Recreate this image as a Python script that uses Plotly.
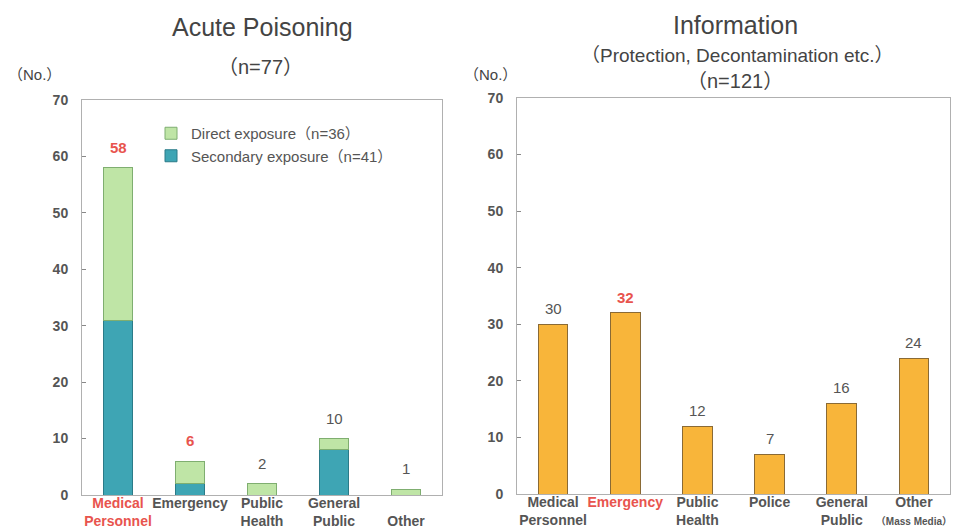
import plotly.graph_objects as go

# ---- data -------------------------------------------------------------
poison_cats = ["Medical Personnel", "Emergency", "Public Health", "General Public", "Other"]
poison_secondary = [31, 2, 0, 8, 0]
poison_direct = [27, 4, 2, 2, 1]
poison_highlight = [True, True, False, False, False]

info_cats = ["Medical Personnel", "Emergency", "Public Health", "Police", "General Public", "Other"]
info_values = [30, 32, 12, 7, 16, 24]
info_highlight = [False, True, False, False, False, False]

poison_ticktext = [
    "<span style='color:#e8544e'>Medical<br>Personnel</span>",
    "Emergency<br> ",
    "Public<br>Health",
    "General<br>Public",
    "<br>Other",
]
info_ticktext = [
    "Medical<br>Personnel",
    "<span style='color:#e8544e'>Emergency</span><br> ",
    "Public<br>Health",
    "Police<br> ",
    "General<br>Public",
    "Other<br><span style='font-size:10px'>（Mass Media）</span>",
]

# ---- styles -------------------------------------------------------------
FONT = "Liberation Sans, Arial, Noto Sans CJK JP, sans-serif"
GRAY = "#555555"
RED = "#e8544e"
GREEN = "#bfe5a6"
GREEN_EDGE = "#7fae70"
TEAL = "#3ea5b4"
TEAL_EDGE = "#2b7b88"
ORANGE = "#f8b53a"
ORANGE_EDGE = "#8a6a35"

fig = go.Figure()

fig.add_trace(go.Bar(
    x=poison_cats, y=poison_secondary, name="Secondary exposure（n=41）",
    marker=dict(color=TEAL, line=dict(color=TEAL_EDGE, width=1)),
    width=0.41, xaxis="x", yaxis="y",
))
fig.add_trace(go.Bar(
    x=poison_cats, y=poison_direct, name="Direct exposure（n=36）",
    marker=dict(color=GREEN, line=dict(color=GREEN_EDGE, width=1)),
    width=0.41, xaxis="x", yaxis="y",
))
fig.add_trace(go.Bar(
    x=info_cats, y=info_values, name="Information", showlegend=False,
    marker=dict(color=ORANGE, line=dict(color=ORANGE_EDGE, width=1)),
    width=0.41, xaxis="x2", yaxis="y2",
))

# value labels above bars
def value_font(hi):
    if hi:
        return dict(family=FONT, size=15, color=RED, weight="bold")
    return dict(family=FONT, size=15, color=GRAY)

annotations = []
for cat, s, d, hi in zip(poison_cats, poison_secondary, poison_direct, poison_highlight):
    total = s + d
    annotations.append(dict(
        x=cat, y=total, xref="x", yref="y", text=str(total),
        showarrow=False, yanchor="bottom", yshift=10, font=value_font(hi),
    ))
for cat, v, hi in zip(info_cats, info_values, info_highlight):
    annotations.append(dict(
        x=cat, y=v, xref="x2", yref="y2", text=str(v),
        showarrow=False, yanchor="bottom", yshift=5, font=value_font(hi),
    ))

# titles and unit labels
W, H = 964, 532
def px(x):
    return x / W
def py(y):
    return 1 - y / H

titles = [
    ("Acute Poisoning", 262, 27, 25),
    ("（n=77）", 260, 67, 20),
    ("Information", 735, 25, 25),
    ("（Protection, Decontamination etc.）", 737, 55, 19),
    ("（n=121）", 735, 81, 20),
    ("（No.）", 34, 75, 15),
    ("（No.）", 490, 75, 15),
]
for text, x, y, size in titles:
    annotations.append(dict(
        x=px(x), y=py(y), xref="paper", yref="paper", text=text,
        showarrow=False, xanchor="center", yanchor="middle",
        font=dict(family=FONT, size=size, color="#444444"),
    ))

yaxis_common = dict(
    range=[0, 70], dtick=10, showgrid=False, zeroline=False,
    showline=True, linecolor="#b0b0b0", linewidth=1, mirror=True,
    ticks="inside", ticklen=4, tickcolor="#888888",
    tickfont=dict(family=FONT, size=14, color=GRAY, weight="bold"),
    ticklabelstandoff=10, automargin=False,
)
xaxis_common = dict(
    type="category", showgrid=False, zeroline=False,
    showline=True, linecolor="#b0b0b0", linewidth=1, mirror=True,
    ticks="", tickmode="array", tickangle=0, automargin=False,
    tickfont=dict(family=FONT, size=14, color=GRAY, weight="bold"),
    ticklabelstandoff=-5,
)

fig.update_layout(
    width=W, height=H,
    margin=dict(l=0, r=0, t=0, b=0),
    paper_bgcolor="white", plot_bgcolor="white",
    barmode="stack",
    bargap=0.59,
    font=dict(family=FONT, color=GRAY),
    xaxis=dict(domain=[px(82), px(442)], anchor="y",
               tickvals=poison_cats, ticktext=poison_ticktext, **xaxis_common),
    yaxis=dict(domain=[py(495), py(100)], anchor="x", **yaxis_common),
    xaxis2=dict(domain=[px(517), px(950)], anchor="y2",
                tickvals=info_cats, ticktext=info_ticktext, **xaxis_common),
    yaxis2=dict(domain=[py(494), py(98)], anchor="x2", **yaxis_common),
    legend=dict(
        x=px(151), y=py(117), xanchor="left", yanchor="top",
        traceorder="reversed", bgcolor="rgba(0,0,0,0)",
        font=dict(family=FONT, size=15, color=GRAY),
        itemwidth=30, tracegroupgap=0,
    ),
    annotations=annotations,
    showlegend=True,
)

fig.write_html("out.html")
